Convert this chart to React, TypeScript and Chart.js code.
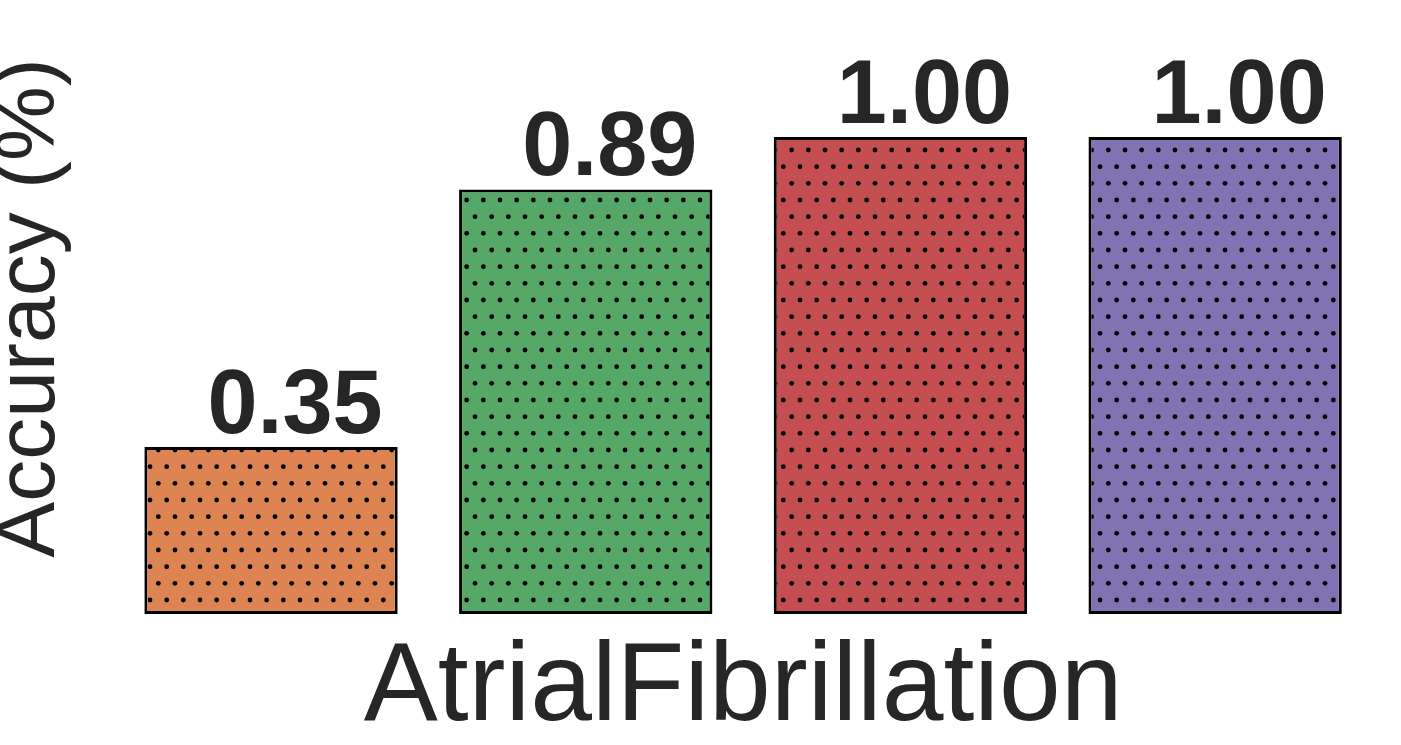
import React, { useEffect, useRef } from "react";
import { Chart, registerables } from "chart.js";

Chart.register(...registerables);

const categories = ["Model A", "Model B", "Model C", "Model D"];
const accuracyValues = [0.35, 0.89, 1.0, 1.0];
const barColors = ["#DD8452", "#55A868", "#C44E52", "#8172B3"];
const xAxisTitle = "AtrialFibrillation";
const yAxisTitle = "Accuracy (%)";

const FONT = '"Liberation Sans", Arial, Helvetica, sans-serif';
const TEXT = "#262626";

function makeDotPattern(color: string): CanvasPattern | string {
  const tile = document.createElement("canvas");
  tile.width = 50;
  tile.height = 100;
  const c = tile.getContext("2d");
  if (!c) return color;
  c.fillStyle = color;
  c.fillRect(0, 0, 50, 100);
  c.fillStyle = "#000000";
  const step = 50 / 3;
  for (let k = -1; k <= 7; k++) {
    const y = k * step;
    const off = ((k % 2) + 2) % 2 === 1 ? step / 2 : 0;
    for (let n = -1; n <= 4; n++) {
      const x = off + n * step;
      c.beginPath();
      c.arc(x, y, 2.4, 0, Math.PI * 2);
      c.fill();
    }
  }
  const ctx = document.createElement("canvas").getContext("2d");
  const p = ctx ? ctx.createPattern(tile, "repeat") : null;
  return p || color;
}

const valueLabels = {
  id: "valueLabels",
  afterDatasetsDraw(chart: any) {
    const ctx = chart.ctx;
    const meta = chart.getDatasetMeta(0);
    ctx.save();
    ctx.font = `bold 90px ${FONT}`;
    ctx.fillStyle = TEXT;
    ctx.textAlign = "center";
    ctx.textBaseline = "alphabetic";
    meta.data.forEach((bar: any, i: number) => {
      const v = accuracyValues[i];
      ctx.fillText(v.toFixed(2), bar.x + 24, bar.y - 14);
    });
    ctx.restore();
  },
};

export default function App() {
  const canvasRef = useRef<HTMLCanvasElement | null>(null);

  useEffect(() => {
    document.body.style.margin = "0";
    const canvas = canvasRef.current;
    if (!canvas) return;
    const patterns = barColors.map((c) => makeDotPattern(c));
    const chart = new Chart(canvas, {
      type: "bar",
      data: {
        labels: categories,
        datasets: [
          {
            data: accuracyValues,
            backgroundColor: patterns as any,
            borderColor: "#000000",
            borderWidth: 3,
            borderSkipped: false,
            barPercentage: 0.805,
            categoryPercentage: 1,
          },
        ],
      },
      options: {
        responsive: false,
        animation: false,
        devicePixelRatio: 1,
        layout: { padding: { top: 2, right: 28.5, left: 0, bottom: 0 } },
        plugins: {
          legend: { display: false },
          tooltip: { enabled: false },
        },
        scales: {
          x: {
            display: true,
            grid: { display: false, drawTicks: false },
            border: { display: false },
            ticks: { display: false },
            title: {
              display: true,
              text: xAxisTitle,
              color: TEXT,
              font: { family: FONT, size: 111, lineHeight: 1.1 },
              padding: { top: 14, bottom: -5 },
            },
          },
          y: {
            display: true,
            min: 0,
            max: 1.283,
            grid: { display: false, drawTicks: false },
            border: { display: false },
            ticks: { display: false },
            title: {
              display: true,
              text: yAxisTitle,
              color: TEXT,
              font: { family: FONT, size: 84, lineHeight: 0.77 },
              padding: { top: -1, bottom: 50 },
            },
          },
        },
      },
      plugins: [valueLabels],
    });
    return () => chart.destroy();
  }, []);

  return (
    <div style={{ position: "fixed", left: 0, top: 0, width: 1401, height: 745, background: "#ffffff" }}>
      <canvas ref={canvasRef} width={1401} height={745} style={{ width: 1401, height: 745, display: "block" }} />
    </div>
  );
}
